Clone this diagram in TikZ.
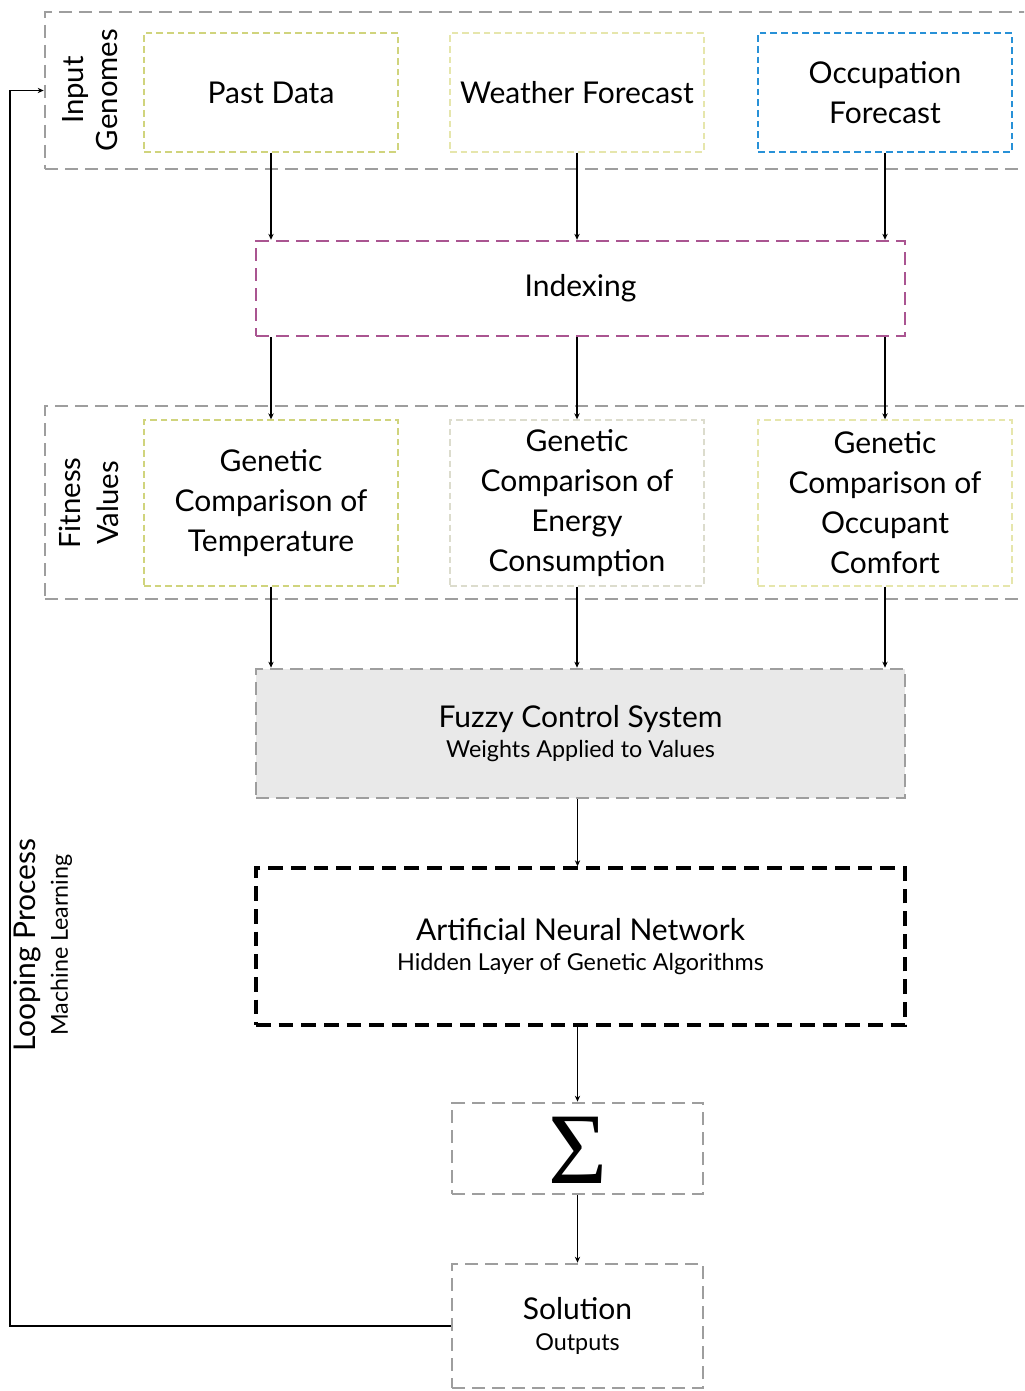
\documentclass[tikz,border=0pt]{standalone}
\usepackage{fontspec}
\setmainfont{Lato}
\newfontfamily\sigmafont{Liberation Serif}
\usetikzlibrary{arrows.meta}
\definecolor{grpgray}{RGB}{158,158,158}
\definecolor{ylwA}{RGB}{208,212,125}
\definecolor{ylwB}{RGB}{230,230,172}
\definecolor{paleE}{RGB}{220,220,205}
\definecolor{blueO}{RGB}{40,145,215}
\definecolor{purpI}{RGB}{170,85,145}
\definecolor{fuzzyfill}{RGB}{233,233,233}
\newcommand\mainfs{\fontsize{22.5}{30}\selectfont}
\newcommand\subfs{\fontsize{17.5}{20}\selectfont}
\tikzset{
  box/.style={rectangle, align=center, inner sep=0pt, font=\mainfs},
  grpbox/.style={rectangle, draw=grpgray, line width=2pt, dash pattern=on 10pt off 5pt},
  thinbox/.style={box, line width=1pt, dash pattern=on 5pt off 3pt},
  graybox/.style={box, draw=grpgray, line width=2pt, dash pattern=on 10pt off 5pt},
  arr/.style={-{Stealth[length=4.5pt,width=4pt]}, line width=0.9pt},
  sidelabel/.style={rotate=90, align=center, inner sep=0pt}
}
\begin{document}
\begin{tikzpicture}[x={(0.75pt,0)}, y={(0,-0.75pt)}]
\useasboundingbox (0,0) rectangle (1024,1391);
\clip (0,0) rectangle (1024,1391);

% groups
\node[grpbox, minimum width=746.25pt, minimum height=117.75pt] (inputgrp) at (542.5,90.5) {};
\node[grpbox, minimum width=746.25pt, minimum height=144.75pt] (fitgrp) at (542.5,502.5) {};

\node[sidelabel, font=\fontsize{22}{26}\selectfont] (inlbl) at (90,90) {Input\\Genomes};
\node[sidelabel, font=\fontsize{22}{28.5}\selectfont] (fitlbl) at (89,503) {Fitness\\Values};
\node[sidelabel, font=\fontsize{22.5}{24}\selectfont] (looplbl) at (43,945) {Looping Process\\{\subfs Machine Learning}};

% input row
\node[thinbox, draw=ylwA, minimum width=190.5pt, minimum height=89.25pt] (past) at (271,92.5) {Past Data};
\node[thinbox, draw=ylwB, minimum width=190.5pt, minimum height=89.25pt] (weather) at (577,92.5) {Weather Forecast};
\node[thinbox, draw=blueO, minimum width=190.5pt, minimum height=89.25pt] (occ) at (885,92.5) {Occupation\\Forecast};

% indexing
\node[box, draw=purpI, line width=1.8pt, dash pattern=on 10pt off 5pt, minimum width=486.75pt, minimum height=71.25pt] (index) at (580.5,288.5) {Indexing};

% fitness row
\node[thinbox, draw=ylwA, minimum width=190.5pt, minimum height=124.5pt] (temp) at (271,503) {Genetic\\Comparison of\\Temperature};
\node[thinbox, draw=paleE, minimum width=190.5pt, minimum height=124.5pt] (energy) at (577,503) {Genetic\\Comparison of\\Energy\\Consumption};
\node[thinbox, draw=ylwB, minimum width=190.5pt, minimum height=124.5pt] (comfort) at (885,503) {Genetic\\Comparison of\\Occupant\\Comfort};

% fuzzy
\node[graybox, fill=fuzzyfill, minimum width=486.75pt, minimum height=96.75pt, font=\fontsize{22.5}{23}\selectfont] (fuzzy) at (580.5,733.5) {Fuzzy Control System\\{\subfs Weights Applied to Values}};

% ANN
\node[box, draw=black, line width=2.6pt, dash pattern=on 11pt off 6pt, minimum width=486.75pt, minimum height=117.75pt, font=\fontsize{22.5}{23}\selectfont] (ann) at (580.5,946.5) {Artificial Neural Network\\{\subfs Hidden Layer of Genetic Algorithms}};

% sigma
\node[graybox, minimum width=188.25pt, minimum height=68.25pt] (sigma) at (577.5,1148.5) {};
\node[inner sep=0pt, font=\sigmafont\fontsize{76}{76}\selectfont] (sigmatxt) at (577.5,1150) {Σ};

% solution
\node[graybox, minimum width=188.25pt, minimum height=93pt, font=\fontsize{22.5}{23}\selectfont] (sol) at (577.5,1326) {Solution\\{\subfs Outputs}};

% arrows
\draw[arr] (past.south) -- (past.south |- index.north);
\draw[arr] (weather.south) -- (weather.south |- index.north);
\draw[arr] (occ.south) -- (occ.south |- index.north);

\draw[arr] (index.south -| temp.north) -- (temp.north);
\draw[arr] (index.south -| energy.north) -- (energy.north);
\draw[arr] (index.south -| comfort.north) -- (comfort.north);

\draw[arr] (temp.south) -- (temp.south |- fuzzy.north);
\draw[arr] (energy.south) -- (energy.south |- fuzzy.north);
\draw[arr] (comfort.south) -- (comfort.south |- fuzzy.north);

\draw[arr] (fuzzy.south -| sigma.north) -- (ann.north -| sigma.north);
\draw[arr] (ann.south -| sigma.north) -- (sigma.north);
\draw[arr] (sigma.south) -- (sol.north);

\coordinate (loopx) at (10,0);
\draw[arr] (sol.west) -- (sol.west -| loopx) |- (inputgrp.west);
\end{tikzpicture}
\end{document}
